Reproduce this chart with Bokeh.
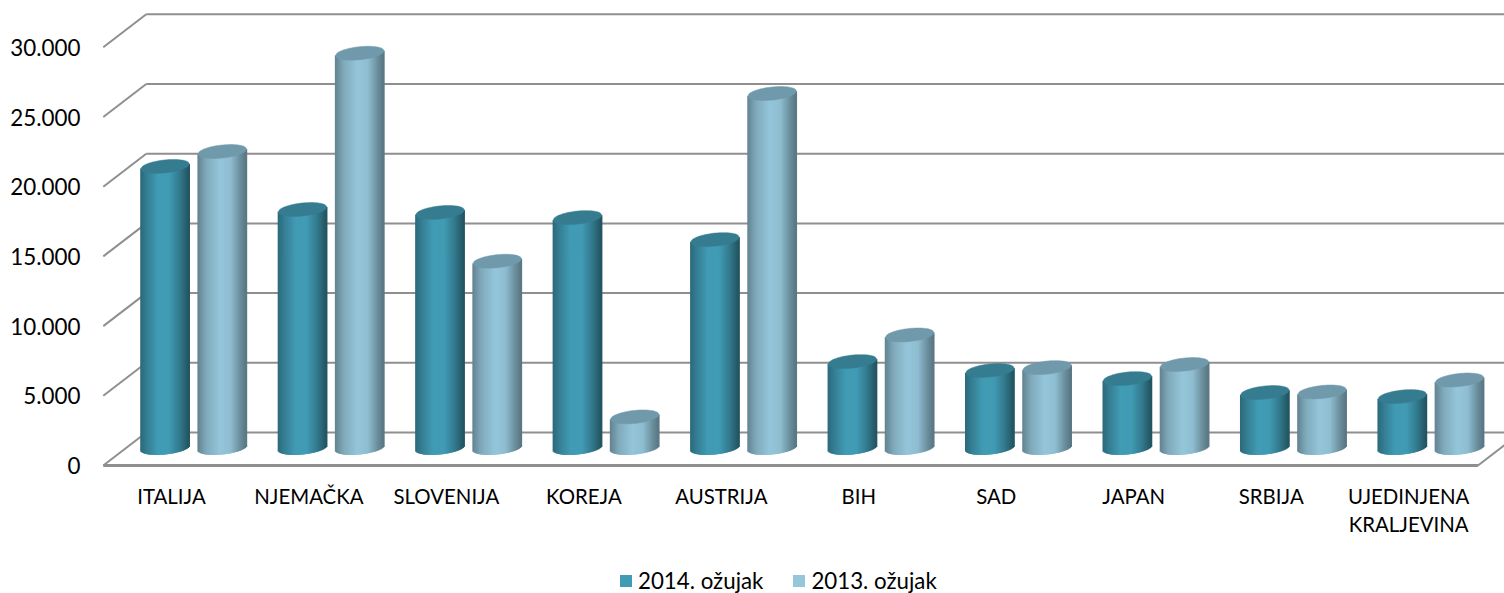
from bokeh.plotting import figure
from bokeh.models import ColumnDataSource, FixedTicker, Legend, LegendItem
from bokeh.core.properties import value
from bokeh.embed import file_html
from bokeh.resources import INLINE

categories = ["ITALIJA", "NJEMAČKA", "SLOVENIJA", "KOREJA", "AUSTRIJA", "BIH", "SAD", "JAPAN", "SRBIJA",
              "UJEDINJENA\nKRALJEVINA"]
values_2014 = [20200, 17110, 16900, 16530, 14950, 6200, 5560, 4980, 3980, 3690]
values_2013 = [21270, 28320, 13400, 2230, 25430, 8110, 5770, 5990, 4020, 4880]
y_ticks = [0, 5000, 10000, 15000, 20000, 25000, 30000]
y_labels = ["0", "5.000", "10.000", "15.000", "20.000", "25.000", "30.000"]
series_names = ["2014. ožujak", "2013. ožujak"]

W, H = 1504, 593
X_PX = 137.47          # pixels per category
V_PX = 5000 / 69.7     # value units per pixel
X0 = 171.5             # pixel of first category on the front plane
Y0 = 465.0             # pixel of value 0 on the front plane
FR_L = 102             # frame left


def ux(px):
    return px / X_PX


def uy(px):
    return px * V_PX


p = figure(width=W, height=H, output_backend="svg", toolbar_location=None,
           x_range=((FR_L - X0) / X_PX, (W - X0) / X_PX),
           y_range=(-uy(H - Y0), uy(Y0)),
           min_border_left=FR_L, min_border_right=0, min_border_top=0, min_border_bottom=0,
           margin=0, background_fill_color=None, border_fill_color="white")
p.outline_line_color = None
p.grid.visible = False

# walls and floor
GRID = "#8f8f8f"
DX, DY = ux(43), uy(33)
L, R = -0.5, 9.5
p.segment(x0=[L + DX] * len(y_ticks), x1=[R + DX + 1] * len(y_ticks),
          y0=[t + DY for t in y_ticks], y1=[t + DY for t in y_ticks], line_color=GRID, line_width=2)
p.segment(x0=[L] * len(y_ticks), x1=[L + DX] * len(y_ticks),
          y0=y_ticks, y1=[t + DY for t in y_ticks], line_color=GRID, line_width=2)
p.segment(x0=[L, R], x1=[R, R + DX], y0=[0, 0], y1=[0, DY], line_color=GRID, line_width=[3, 2])

# cylinders
A, B, SHEAR = 24.3, 6.5, 0.1   # half width, half cap height (px), cap tilt
DEPTH_X, DEPTH_Y = ux(21.7), uy(17.5)
SEP = ux(28.6)
PROFILE_D = [(0, .68), (.14, .82), (.36, 1.0), (.60, 1.0), (.82, .78), (1, .54)]
PROFILE_L = [(0, .66), (.18, .86), (.46, 1.0), (.68, .96), (.88, .72), (1, .60)]


def shade(base, prof, t):
    for (t0, f0), (t1, f1) in zip(prof, prof[1:]):
        if t <= t1:
            f = f0 + (f1 - f0) * (t - t0) / (t1 - t0)
            break
    return "#%02x%02x%02x" % tuple(min(255, int(c * f)) for c in base)


def cylinders(vals, offset, base, prof, cap):
    cx = [i + DEPTH_X + offset for i in range(len(vals))]
    tops = [v + DEPTH_Y for v in vals]
    body = p.vbar(x=cx, top=tops, bottom=DEPTH_Y, width=ux(2 * A - 6),
                  fill_color="#%02x%02x%02x" % base, line_color=None)
    sx, sb, st, sc = [], [], [], []
    n = int(2 * A)
    for c, t in zip(cx, tops):
        for k in range(n):
            u = -A + (k + 0.5) * 2 * A / n
            sx.append(c + ux(u))
            sb.append(DEPTH_Y + uy(SHEAR * u - B * (1 - (u / A) ** 2) ** 0.5))
            st.append(t + uy(SHEAR * u))
            sc.append(shade(base, prof, (u + A) / (2 * A)))
    p.vbar(x="x", top="t", bottom="b", width=ux(2.2), fill_color="c", line_color=None,
           source=ColumnDataSource(dict(x=sx, t=st, b=sb, c=sc)))
    xs, ys = [], []
    for c, t in zip(cx, tops):
        px, py = [], []
        steps = 40
        for k in range(steps + 1):
            u = -A + k * 2 * A / steps
            px.append(c + ux(u))
            py.append(t + uy(SHEAR * u + B * (1 - (u / A) ** 2) ** 0.5))
        for k in range(steps + 1):
            u = A - k * 2 * A / steps
            px.append(c + ux(u))
            py.append(t + uy(SHEAR * u - B * (1 - (u / A) ** 2) ** 0.5))
        xs.append(px)
        ys.append(py)
    p.patches(xs, ys, fill_color=cap, line_color=cap, line_width=0.5)
    return body


b1 = cylinders(values_2014, -SEP, (65, 155, 180), PROFILE_D, "#367c91")
b2 = cylinders(values_2013, SEP, (149, 198, 218), PROFILE_L, "#7099ab")

# axes
FONT = "Lato"
p.xaxis.visible = False
p.text(x=[i - 0.004 for i in range(len(categories))], y=[-uy(18.5)] * len(categories), text=categories,
       text_font=value(FONT), text_font_size="20.4px", text_color="#000000",
       text_align="center", text_baseline="top", text_line_height=1.18)

ay = p.yaxis[0]
ay.ticker = FixedTicker(ticks=y_ticks)
ay.major_label_overrides = dict(zip(y_ticks, y_labels))
ay.axis_line_color = None
ay.major_tick_line_color = None
ay.minor_tick_line_color = None
ay.major_label_standoff = 16
ay.major_label_text_font = FONT
ay.major_label_text_font_size = "22.4px"
ay.major_label_text_color = "#000000"

legend = Legend(items=[LegendItem(label=series_names[0], renderers=[b1]),
                       LegendItem(label=series_names[1], renderers=[b2])],
                orientation="horizontal", location=(516, -1),
                border_line_color=None, background_fill_color=None, background_fill_alpha=0,
                padding=0, margin=0, spacing=28, label_standoff=5,
                glyph_width=15, glyph_height=15,
                label_text_font=FONT, label_text_font_size="22.3px", label_text_color="#000000")
p.add_layout(legend, "center")

open("out.html", "w").write(file_html(p, INLINE))
